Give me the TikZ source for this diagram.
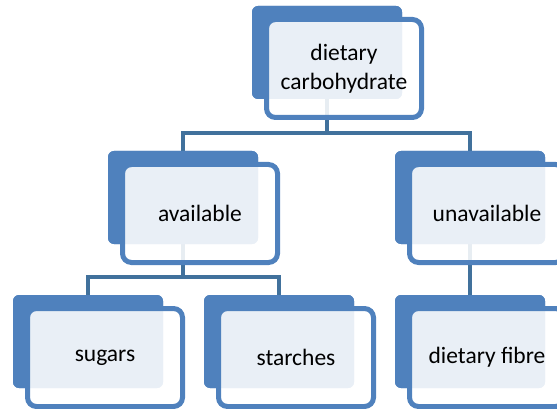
\documentclass[tikz,border=0pt]{standalone}
\usepackage{fontspec}
\setmainfont{Carlito}
\definecolor{accent}{HTML}{4F81BD}
\definecolor{linkc}{HTML}{41719C}
\begin{document}
\begin{tikzpicture}[x=1pt,y=-1pt,
  backbox/.style={fill=accent,draw=none,minimum width=150pt,minimum height=93pt,inner sep=0pt,rounded corners=6pt},
  frontbox/.style={draw=accent,line width=5pt,fill=white,fill opacity=0.88,text opacity=1,
    minimum width=155pt,minimum height=98pt,inner sep=0pt,rounded corners=9pt,
    align=center,font=\fontsize{23.5}{28.5}\selectfont},
  link/.style={draw=linkc,line width=4.5pt}]
\useasboundingbox (0,0) rectangle (557,409);
% back boxes positioned by origin (x0,y0): center = (x0+75, y0+46.5)
\path node[backbox] (bTop) at (327,52.5) {}
      node[backbox] (bAvail) at (183,197.5) {}
      node[backbox] (bUnav) at (470,197.5) {}
      node[backbox] (bSug) at (88,341.5) {}
      node[backbox] (bStar) at (279,341.5) {}
      node[backbox] (bFib) at (470,341.5) {};
\coordinate (bus1) at (327,133);
\coordinate (bus2) at (183,277);
% connectors (behind front boxes)
\begin{scope}[on background layer/.try]
\end{scope}
\draw[link] (bTop.south) -- (bus1);
\draw[link] (bAvail.north) |- (bus1) -| (bUnav.north);
\draw[link] (bAvail.south) -- (bus2);
\draw[link] (bSug.north) |- (bus2) -| (bStar.north);
\draw[link] (bUnav.south) -- (bFib.north);
% redraw back boxes above connectors
\path node[backbox] at (bTop) {}
      node[backbox] at (bAvail) {}
      node[backbox] at (bUnav) {}
      node[backbox] at (bSug) {}
      node[backbox] at (bStar) {}
      node[backbox] at (bFib) {};
% front boxes: center = (x0+92, y0+62.5)
\node[frontbox] (fTop) at (344,68.5) {dietary\\carbohydrate};
\node[frontbox] (fAvail) at (200,213.5) {available};
\node[frontbox] (fUnav) at (487,213.5) {unavailable};
\node[frontbox] (fSug) at (105,357.5) {sugars};
\node[frontbox] (fStar) at (296,357.5) {starches};
\node[frontbox] (fFib) at (487,357.5) {dietary fibre};
\end{tikzpicture}
\end{document}
